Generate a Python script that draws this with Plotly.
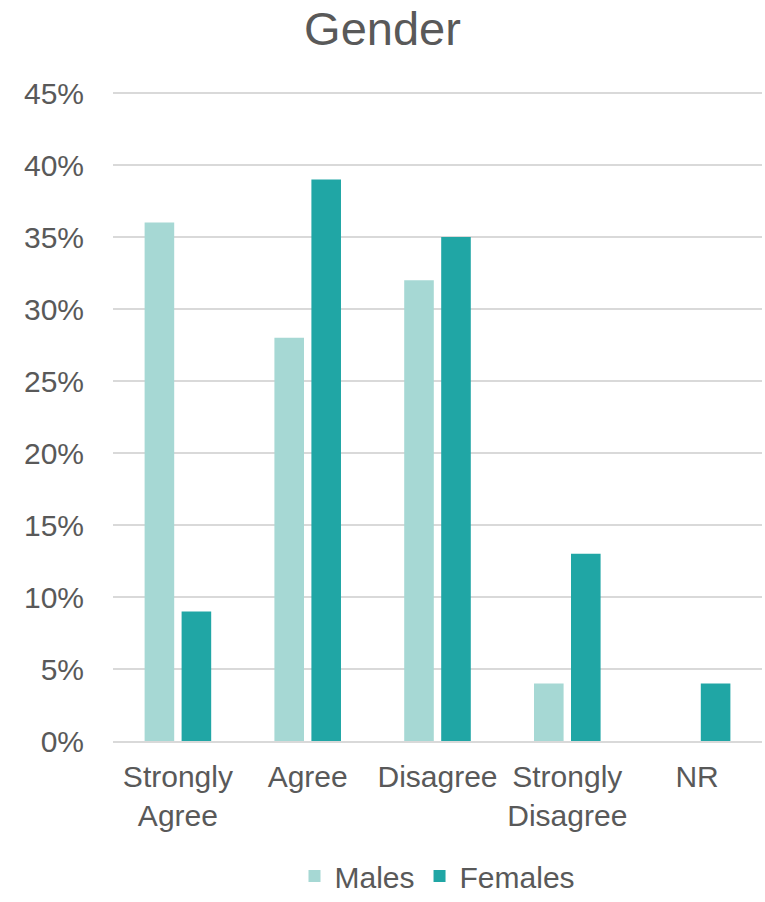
import plotly.graph_objects as go

categories = ["Strongly<br>Agree", "Agree", "Disagree", "Strongly<br>Disagree", "NR"]
males = [0.36, 0.28, 0.32, 0.04, 0.0]
females = [0.09, 0.39, 0.35, 0.13, 0.04]
y_ticks = [0, 0.05, 0.10, 0.15, 0.20, 0.25, 0.30, 0.35, 0.40, 0.45]
y_tick_labels = ["0%", "5%", "10%", "15%", "20%", "25%", "30%", "35%", "40%", "45%"]

TEXT = "#595959"
FONT = "Liberation Sans, Arial, sans-serif"

fig = go.Figure()
fig.add_trace(go.Bar(name="Males", x=categories, y=males, marker_color="#A6D8D4",
                     marker_line_width=0))
fig.add_trace(go.Bar(name="Females", x=categories, y=females, marker_color="#20A6A5",
                     marker_line_width=0))

fig.update_layout(
    width=765, height=902,
    margin=dict(l=113, r=3, t=92, b=161),
    paper_bgcolor="white", plot_bgcolor="white",
    font=dict(family=FONT, size=30, color=TEXT),
    title=dict(text="Gender", x=0.5, xanchor="center", y=0.968, yanchor="middle",
               font=dict(size=47, color=TEXT, family=FONT)),
    barmode="group", bargap=0.43, bargroupgap=0.2,
    showlegend=True,
    legend=dict(orientation="h", x=0.5, xanchor="center", yref="container",
                y=0.0, yanchor="bottom", font=dict(size=30, color=TEXT),
                itemwidth=30, traceorder="normal"),
)
fig.update_xaxes(showgrid=False, showline=True, linecolor="#D9D9D9", linewidth=1.5,
                 ticks="", tickfont=dict(size=30, color=TEXT), ticklabelstandoff=8)
fig.update_yaxes(range=[0, 0.4507], tickvals=y_ticks, ticktext=y_tick_labels,
                 showgrid=True, gridcolor="#D9D9D9", gridwidth=1.5,
                 zeroline=False, showline=False, ticks="",
                 tickfont=dict(size=30, color=TEXT), ticklabelstandoff=28)

fig.write_html("out.html")
